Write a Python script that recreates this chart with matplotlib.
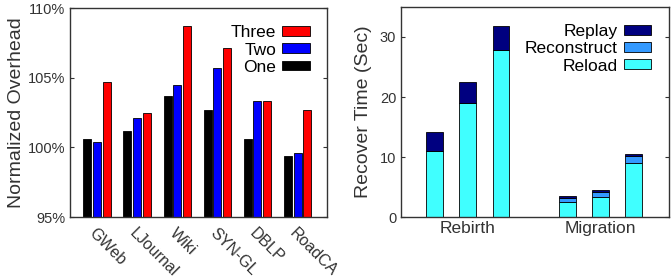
import numpy as np
import matplotlib
matplotlib.use("Agg")
import matplotlib.pyplot as plt

plt.rcParams['font.family'] = ['Liberation Sans', 'DejaVu Sans']

# left panel: normalized overhead (%)
datasets = ["GWeb", "LJournal", "Wiki", "SYN-GL", "DBLP", "RoadCA"]
one = [100.6, 101.2, 103.7, 102.7, 100.6, 99.4]
two = [100.4, 102.1, 104.5, 105.7, 103.3, 99.6]
three = [104.7, 102.5, 108.7, 107.1, 103.3, 102.7]

# right panel: recover time (sec)
groups = ["Rebirth", "Migration"]
reload_t = [11.0, 19.0, 27.9, 2.5, 3.3, 9.0]
reconstruct_t = [0.0, 0.0, 0.0, 0.7, 0.9, 1.2]
replay_t = [3.2, 3.5, 3.9, 0.3, 0.3, 0.3]

fig = plt.figure(figsize=(6.72, 2.79), dpi=100)
ax1 = fig.add_axes([0.104, 0.222, 0.383, 0.749])
ax2 = fig.add_axes([0.597, 0.222, 0.398, 0.753])

leg_kw = dict(loc='upper right', frameon=False, markerfirst=False, fontsize=12.5,
              handlelength=1.6, handleheight=0.5, labelspacing=0.12,
              handletextpad=0.35, borderaxespad=0.6)

x = np.arange(len(datasets))
w = 0.2
ax1.bar(x - 0.24, one, w, color='black', edgecolor='black', lw=0.6, label='One')
ax1.bar(x, two, w, color='#0000ff', edgecolor='black', lw=0.6, label='Two')
ax1.bar(x + 0.24, three, w, color='#ff0000', edgecolor='black', lw=0.6, label='Three')
ax1.set_xlim(-0.675, 5.74)
ax1.set_ylim(95, 110)
ax1.set_yticks([95, 100, 105, 110])
ax1.set_yticklabels(["95%", "100%", "105%", "110%"])
ax1.set_xticks(x)
ax1.set_xticklabels(datasets, rotation=-45, ha='left', va='top', rotation_mode='anchor')
ax1.tick_params(axis='x', length=0, pad=6, labelsize=11.5, colors='#333333')
ax1.tick_params(axis='y', direction='in', right=True, length=3, labelsize=10.5, colors='#333333')
ax1.set_ylabel("Normalized Overhead", fontsize=14, color='#333333', labelpad=2)
h, l = ax1.get_legend_handles_labels()
ax1.legend(h[::-1], l[::-1], **leg_kw)

pos = [0, 1, 2, 4, 5, 6]
bw = 0.5
bot2 = np.array(reload_t) + np.array(reconstruct_t)
ax2.bar(pos, reload_t, bw, color='#40ffff', edgecolor='black', lw=0.6, label='Reload')
ax2.bar(pos, reconstruct_t, bw, bottom=reload_t, color='#3399ff', edgecolor='black', lw=0.6, label='Reconstruct')
ax2.bar(pos, replay_t, bw, bottom=bot2, color='#000080', edgecolor='black', lw=0.6, label='Replay')
ax2.set_xlim(-1.0, 7.05)
ax2.set_ylim(0, 35)
ax2.set_yticks([0, 10, 20, 30])
ax2.set_xticks([1, 5])
ax2.set_xticklabels(groups)
ax2.tick_params(axis='x', length=0, pad=3, labelsize=12.5, colors='#333333')
ax2.tick_params(axis='y', direction='in', right=True, length=3, labelsize=10.5, colors='#333333')
ax2.set_ylabel("Recover Time (Sec)", fontsize=14, color='#333333', labelpad=6)
h, l = ax2.get_legend_handles_labels()
ax2.legend(h[::-1], l[::-1], **leg_kw)

for ax in (ax1, ax2):
    for s in ax.spines.values():
        s.set_color('#333333')
        s.set_linewidth(1.0)

fig.savefig("out.png", dpi=100)
